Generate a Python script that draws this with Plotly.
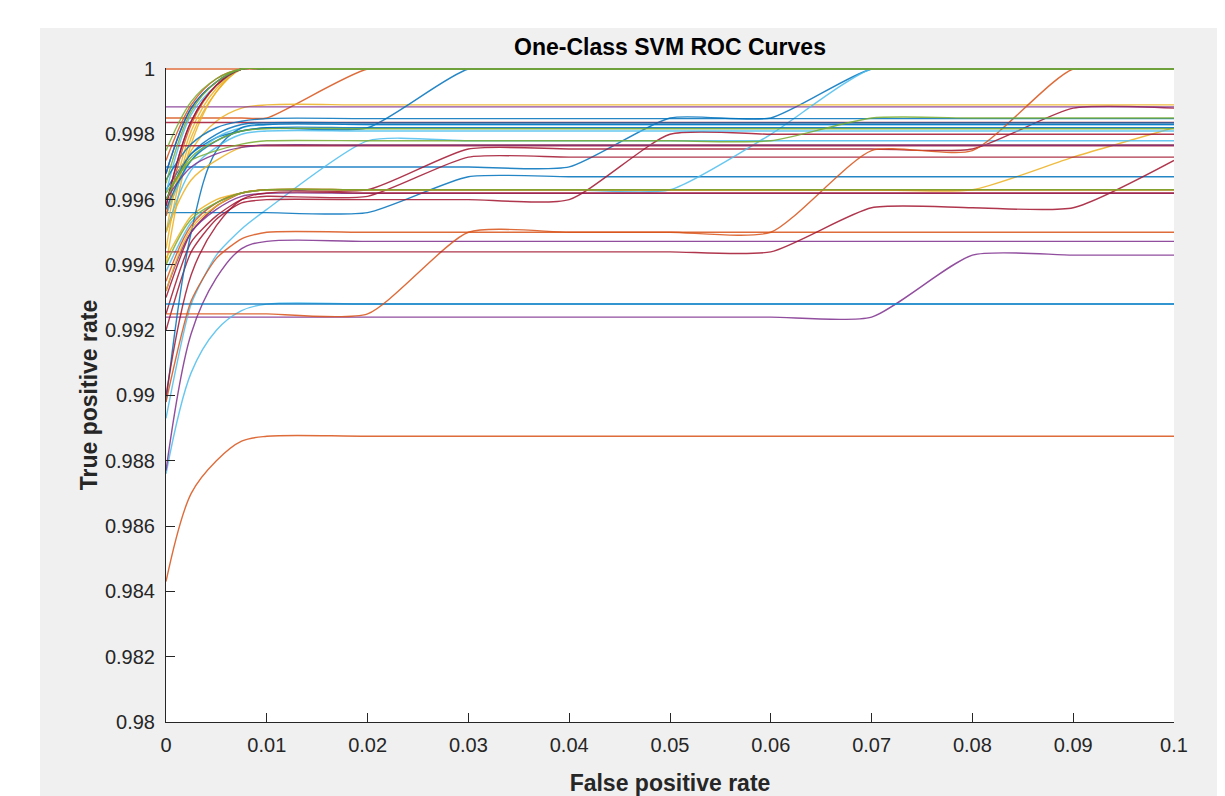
import plotly.graph_objects as go

# False positive rate sample positions shared by every curve
fpr = [0, 0.0025, 0.005, 0.0075, 0.01, 0.02, 0.03, 0.04, 0.05, 0.06, 0.07, 0.08, 0.09, 0.1]

# True positive rate per curve, grouped by MATLAB line colour
tpr_blue = [
    [0.997, 0.997, 0.997, 0.997, 0.997, 0.997, 0.997, 0.997, 0.9985, 0.9985, 1, 1, 1, 1],
    [0.9956, 0.9956, 0.9956, 0.9956, 0.9956, 0.9956, 0.9967, 0.9967, 0.9967, 0.9967, 0.9967, 0.9967, 0.9967, 0.9967],
    [0.9963, 0.9974, 0.9979, 0.9981, 0.9982, 0.9982, 1, 1, 1, 1, 1, 1, 1, 1],
    [0.9928, 0.9928, 0.9928, 0.9928, 0.9928, 0.9928, 0.9928, 0.9928, 0.9928, 0.9928, 0.9928, 0.9928, 0.9928, 0.9928],
    [0.9898, 0.9950, 0.9975, 0.9982, 0.9983, 0.9983, 0.9983, 0.9983, 0.9983, 0.9983, 0.9983, 0.9983, 0.9983, 0.9983],
    [0.9960, 0.9974, 0.9980, 0.9983, 0.99835, 0.99835, 0.99835, 0.99835, 0.99835, 0.99835, 0.99835, 0.99835, 0.99835, 0.99835],
    [0.9966, 0.9977, 0.9982, 0.9984, 0.99848, 0.99848, 0.99848, 0.99848, 0.99848, 0.99848, 0.99848, 0.99848, 0.99848, 0.99848],
    [0.9968, 0.9988, 0.9996, 1, 1, 1, 1, 1, 1, 1, 1, 1, 1, 1],
    [0.9957, 0.9972, 0.9978, 0.9981, 0.9982, 0.9982, 0.9982, 0.9982, 0.9982, 0.9982, 0.9982, 0.9982, 0.9982, 0.9982],
]
tpr_orange = [
    [1, 1, 1, 1, 1, 1, 1, 1, 1, 1, 1, 1, 1, 1],
    [0.9985, 0.9985, 0.9985, 0.9985, 0.9985, 1, 1, 1, 1, 1, 1, 1, 1, 1],
    [0.9843, 0.9870, 0.9880, 0.9886, 0.98875, 0.98875, 0.98875, 0.98875, 0.98875, 0.98875, 0.98875, 0.98875, 0.98875, 0.98875],
    [0.9925, 0.9925, 0.9925, 0.9925, 0.9925, 0.9925, 0.995, 0.995, 0.995, 0.995, 0.995, 0.995, 0.995, 0.995],
    [0.9898, 0.9929, 0.9942, 0.9948, 0.995, 0.995, 0.995, 0.995, 0.995, 0.995, 0.9975, 0.9975, 1, 1],
    [0.9972, 0.9989, 0.9997, 1, 1, 1, 1, 1, 1, 1, 1, 1, 1, 1],
    [0.9955, 0.9983, 0.9995, 1, 1, 1, 1, 1, 1, 1, 1, 1, 1, 1],
    [0.9935, 0.9952, 0.9959, 0.9962, 0.9963, 0.9963, 0.9963, 0.9963, 0.9963, 0.9963, 0.9963, 0.9963, 0.9963, 0.9963],
]
tpr_yellow = [
    [0.9942, 0.9955, 0.9960, 0.9962, 0.9963, 0.9963, 0.9963, 0.9963, 0.9963, 0.9963, 0.9963, 0.9963, 0.9973, 0.9982],
    [0.9955, 0.9975, 0.9984, 0.9988, 0.9989, 0.9989, 0.9989, 0.9989, 0.9989, 0.9989, 0.9989, 0.9989, 0.9989, 0.9989],
    [0.9940, 0.9977, 0.9993, 1, 1, 1, 1, 1, 1, 1, 1, 1, 1, 1],
    [0.9945, 0.9979, 0.9993, 1, 1, 1, 1, 1, 1, 1, 1, 1, 1, 1],
    [0.9950, 0.9981, 0.9994, 1, 1, 1, 1, 1, 1, 1, 1, 1, 1, 1],
    [0.9950, 0.9966, 0.9972, 0.9976, 0.99767, 0.99767, 0.99767, 0.99767, 0.99767, 0.99767, 0.99767, 0.99767, 0.99767, 0.99767],
    [0.9932, 0.9951, 0.9958, 0.9962, 0.9963, 0.9963, 0.9963, 0.9963, 0.9963, 0.9963, 0.9963, 0.9963, 0.9963, 0.9963],
]
tpr_purple = [
    [0.9924, 0.9924, 0.9924, 0.9924, 0.9924, 0.9924, 0.9924, 0.9924, 0.9924, 0.9924, 0.9924, 0.9943, 0.9943, 0.9943],
    [0.99884, 0.99884, 0.99884, 0.99884, 0.99884, 0.99884, 0.99884, 0.99884, 0.99884, 0.99884, 0.99884, 0.99884, 0.99884, 0.99884],
    [0.9877, 0.9919, 0.9936, 0.9945, 0.99472, 0.99472, 0.99472, 0.99472, 0.99472, 0.99472, 0.99472, 0.99472, 0.99472, 0.99472],
    [0.9968, 0.9988, 0.9996, 1, 1, 1, 1, 1, 1, 1, 1, 1, 1, 1],
    [0.9958, 0.9984, 0.9995, 1, 1, 1, 1, 1, 1, 1, 1, 1, 1, 1],
    [0.9932, 0.9950, 0.9957, 0.9961, 0.99619, 0.99619, 0.99619, 0.99619, 0.99619, 0.99619, 0.99619, 0.99619, 0.99619, 0.99619],
    [0.9960, 0.9970, 0.9974, 0.9976, 0.99767, 0.99767, 0.99767, 0.99767, 0.99767, 0.99767, 0.99767, 0.99767, 0.99767, 0.99767],
]
tpr_lightblue = [
    [0.9893, 0.9928, 0.9943, 0.9951, 0.9957, 0.9978, 0.9978, 0.9978, 0.9978, 0.9978, 0.9978, 0.9978, 0.9978, 0.9978],
    [0.9876, 0.9907, 0.9920, 0.9926, 0.9928, 0.9928, 0.9928, 0.9928, 0.9928, 0.9928, 0.9928, 0.9928, 0.9928, 0.9928],
    [0.9938, 0.9953, 0.9959, 0.9962, 0.9963, 0.9963, 0.9963, 0.9963, 0.9963, 0.9980, 1, 1, 1, 1],
    [0.9955, 0.9972, 0.9979, 0.9982, 0.9983, 0.9983, 0.9983, 0.9983, 0.9983, 0.9983, 0.9983, 0.9983, 0.9983, 0.9983],
    [0.9950, 0.9969, 0.9976, 0.9980, 0.9981, 0.9981, 0.9981, 0.9981, 0.9981, 0.9981, 0.9981, 0.9981, 0.9981, 0.9981],
    [0.9962, 0.9986, 0.9995, 1, 1, 1, 1, 1, 1, 1, 1, 1, 1, 1],
]
tpr_darkred = [
    [0.9930, 0.9950, 0.9958, 0.9962, 0.9963, 0.9963, 0.99755, 0.99755, 0.99755, 0.99755, 0.99755, 0.99755, 0.9988, 0.9988],
    [0.9925, 0.9947, 0.9955, 0.9960, 0.9961, 0.9961, 0.9973, 0.9973, 0.9973, 0.9973, 0.9973, 0.9973, 0.9973, 0.9973],
    [0.9920, 0.9944, 0.9954, 0.9959, 0.9960, 0.9960, 0.9960, 0.9960, 0.9980, 0.9980, 0.9980, 0.9980, 0.9980, 0.9980],
    [0.9944, 0.9944, 0.9944, 0.9944, 0.9944, 0.9944, 0.9944, 0.9944, 0.9944, 0.9944, 0.99575, 0.99575, 0.99575, 0.9972],
    [0.99836, 0.99836, 0.99836, 0.99836, 0.99836, 0.99836, 0.99836, 0.99836, 0.99836, 0.99836, 0.99836, 0.99836, 0.99836, 0.99836],
    [0.99765, 0.99765, 0.99765, 0.99765, 0.99765, 0.99765, 0.99765, 0.99765, 0.99765, 0.99765, 0.99765, 0.99765, 0.99765, 0.99765],
    [0.9958, 0.9984, 0.9995, 1, 1, 1, 1, 1, 1, 1, 1, 1, 1, 1],
    [0.9900, 0.9937, 0.9952, 0.9960, 0.9962, 0.9962, 0.9962, 0.9962, 0.9962, 0.9962, 0.9962, 0.9962, 0.9962, 0.9962],
]
tpr_green = [
    [0.9975, 0.9990, 0.9997, 1, 1, 1, 1, 1, 1, 1, 1, 1, 1, 1],
    [0.9962, 0.9972, 0.9975, 0.9977, 0.9978, 0.9978, 0.9978, 0.9978, 0.9978, 0.9978, 0.9985, 0.9985, 0.9985, 0.9985],
    [0.9965, 0.9987, 0.9996, 1, 1, 1, 1, 1, 1, 1, 1, 1, 1, 1],
    [0.9960, 0.9973, 0.9978, 0.9981, 0.99817, 0.99817, 0.99817, 0.99817, 0.99817, 0.99817, 0.99817, 0.99817, 0.99817, 0.99817],
    [0.9940, 0.9954, 0.9959, 0.9962, 0.9963, 0.9963, 0.9963, 0.9963, 0.9963, 0.9963, 0.9963, 0.9963, 0.9963, 0.9963],
]

x_tick_vals = [0, 0.01, 0.02, 0.03, 0.04, 0.05, 0.06, 0.07, 0.08, 0.09, 0.1]
x_tick_text = ["0", "0.01", "0.02", "0.03", "0.04", "0.05", "0.06", "0.07", "0.08", "0.09", "0.1"]
y_tick_vals = [0.98, 0.982, 0.984, 0.986, 0.988, 0.99, 0.992, 0.994, 0.996, 0.998, 1]
y_tick_text = ["0.98", "0.982", "0.984", "0.986", "0.988", "0.99", "0.992", "0.994", "0.996", "0.998", "1"]

groups = [
    ("#0072BD", tpr_blue),
    ("#D95319", tpr_orange),
    ("#EDB120", tpr_yellow),
    ("#7E2F8E", tpr_purple),
    ("#4DBEEE", tpr_lightblue),
    ("#A2142F", tpr_darkred),
]

FONT = "Liberation Sans, Arial, Helvetica, sans-serif"
AX = "#262626"

fig = go.Figure()


def add_curve(color, ys):
    # curves that step up again after the first rise get a gentler spline
    stepped = len(set(ys[4:])) > 1
    fig.add_trace(go.Scatter(
        x=fpr, y=ys, mode="lines", opacity=0.85,
        line=dict(color=color, width=1.4, shape="spline",
                  smoothing=0.6 if stepped else 1.0),
        showlegend=False, hoverinfo="skip"))


n_max = max(len(g[1]) for g in groups)
for i in range(n_max):
    for color, curves in groups:
        if i < len(curves):
            add_curve(color, curves[i])
# green drawn last so it sits on top (as the line along TPR = 1 in the original)
for ys in tpr_green:
    add_curve("#77AC30", ys)

# the page body has an 8px margin, so the figure is 8px smaller and shifted
OFF = 8
W, H = 1225 - OFF, 796 - OFF
L, R, T, B = 166 - OFF, 1174 - OFF, 68 - OFF, 722 - OFF
PW, PH = R - L, B - T


def px(fx):
    return (fx - L) / PW


def py(fy):
    return (B - fy) / PH


fig.update_layout(
    width=W, height=H,
    margin=dict(l=L, r=W - R, t=T, b=H - B, autoexpand=False),
    paper_bgcolor="#f0f0f0",
    plot_bgcolor="white",
    font=dict(family=FONT, color=AX),
    title=dict(text="<b>One-Class SVM ROC Curves</b>", x=(L + R) / 2 / W, xanchor="center",
               y=1 - (47 - OFF) / H, yanchor="middle", font=dict(size=23, color="black", family=FONT)),
    showlegend=False,
    xaxis=dict(range=[0, 0.1], tickvals=x_tick_vals, ticktext=x_tick_text, automargin=False,
               showgrid=False, zeroline=False, showline=True, linecolor=AX, linewidth=1,
               ticks="inside", ticklen=9, tickcolor=AX, tickfont=dict(size=20, color=AX),
               ticklabelstandoff=5,
               title=dict(text="<b>False positive rate</b>", font=dict(size=23, color=AX), standoff=20)),
    yaxis=dict(range=[0.98, 1.00003], tickvals=y_tick_vals, ticktext=y_tick_text, automargin=False,
               showgrid=False, zeroline=False, showline=True, linecolor=AX, linewidth=1,
               ticks="inside", ticklen=9, tickcolor=AX, tickfont=dict(size=20, color=AX),
               ticklabelstandoff=6,
               title=dict(text="<b>True positive rate</b>", font=dict(size=23, color=AX), standoff=0)),
    shapes=[
        dict(type="rect", xref="paper", yref="paper", layer="above",
             x0=px(-20), x1=px(40 - OFF), y0=py(H + 20), y1=py(-20),
             fillcolor="white", line=dict(width=0)),
        dict(type="rect", xref="paper", yref="paper", layer="above",
             x0=px(-20), x1=px(W + 20), y0=py(28 - OFF), y1=py(-20),
             fillcolor="white", line=dict(width=0)),
    ],
)

fig.write_html("out.html")
